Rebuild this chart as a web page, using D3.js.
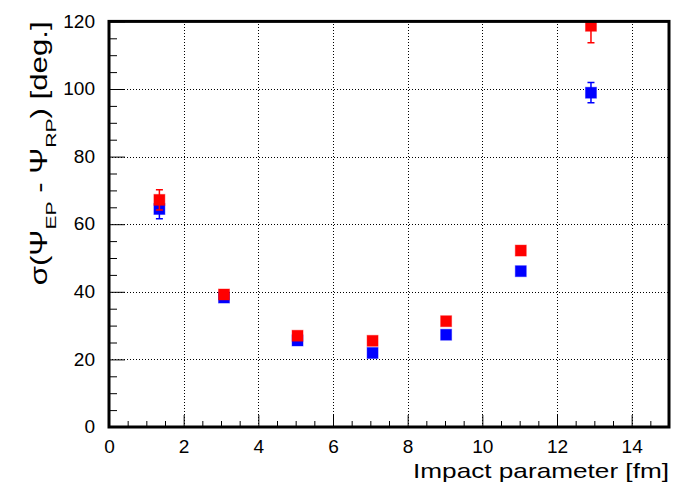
<!DOCTYPE html>
<html>
<head>
<meta charset="utf-8">
<script src="https://cdn.jsdelivr.net/npm/d3@7"></script>
<style>
  body { margin: 0; background: #fff; }
  text { font-family: "Liberation Sans", Arial, sans-serif; fill: #000; }
</style>
</head>
<body>
<script>
// impact parameter bins [fm]
const impact = [1.35, 3.08, 5.05, 7.06, 9.03, 11.03, 12.91];
// resolution sigma(Psi_EP - Psi_RP) [deg.]
const redVals = [67.2, 39.2, 27.0, 25.5, 31.3, 52.2, 118.7];
const redErr = [3.0, 0.6, 0.5, 0.5, 0.6, 0.8, 5.0];
const blueVals = [64.5, 38.3, 25.6, 21.9, 27.3, 46.1, 98.9];
const blueErr = [2.9, 0.6, 0.5, 0.5, 0.6, 0.8, 3.0];

const xTicks = [0, 2, 4, 6, 8, 10, 12, 14];
const yTicks = [0, 20, 40, 60, 80, 100, 120];

const width = 691;
const height = 487;
const box = { left: 109, right: 669, top: 21.4, bottom: 427 };

const svg = d3
  .select("body")
  .append("svg")
  .attr("width", width)
  .attr("height", height);

const x = d3.scaleLinear().domain([0, 15]).range([box.left, box.right]);
const y = d3.scaleLinear().domain([0, 120]).range([box.bottom, box.top]);

// snap 1px lines to the pixel grid so the dots stay sharp
const snap = (v) => Math.round(v) + 0.5;

svg
  .append("clipPath")
  .attr("id", "frame")
  .append("rect")
  .attr("x", box.left)
  .attr("y", box.top)
  .attr("width", box.right - box.left)
  .attr("height", box.bottom - box.top);

// dotted grid
const grid = svg
  .append("g")
  .attr("stroke", "#000")
  .attr("stroke-width", 1)
  .attr("stroke-dasharray", "1 2");

grid
  .selectAll("line.gx")
  .data(xTicks.filter((d) => d > 0))
  .join("line")
  .attr("class", "gx")
  .attr("x1", (d) => snap(x(d)))
  .attr("x2", (d) => snap(x(d)))
  .attr("y1", y(0))
  .attr("y2", y(120));

grid
  .selectAll("line.gy")
  .data(yTicks.filter((d) => d > 0 && d < 120))
  .join("line")
  .attr("class", "gy")
  .attr("x1", x(0))
  .attr("x2", x(15))
  .attr("y1", (d) => snap(y(d)))
  .attr("y2", (d) => snap(y(d)));

// data points
const plot = svg.append("g").attr("clip-path", "url(#frame)");

function drawSeries(vals, errs, color) {
  const pts = vals.map((v, i) => ({ x: impact[i], v, e: errs[i] }));
  const g = plot.append("g");
  const cap = 3.5;

  g.selectAll("line.bar")
    .data(pts)
    .join("line")
    .attr("stroke", color)
    .attr("stroke-width", 1.5)
    .attr("x1", (d) => x(d.x))
    .attr("x2", (d) => x(d.x))
    .attr("y1", (d) => y(d.v - d.e))
    .attr("y2", (d) => y(d.v + d.e));

  ["lo", "hi"].forEach((k) => {
    g.selectAll("line.cap" + k)
      .data(pts)
      .join("line")
      .attr("stroke", color)
      .attr("stroke-width", 1.5)
      .attr("x1", (d) => x(d.x) - cap)
      .attr("x2", (d) => x(d.x) + cap)
      .attr("y1", (d) => y(k === "lo" ? d.v - d.e : d.v + d.e))
      .attr("y2", (d) => y(k === "lo" ? d.v - d.e : d.v + d.e));
  });

  g.selectAll("rect")
    .data(pts)
    .join("rect")
    .attr("fill", color)
    .attr("stroke", color)
    .attr("stroke-opacity", 0.4)
    .attr("x", (d) => x(d.x) - 5.5)
    .attr("y", (d) => y(d.v) - 5.5)
    .attr("width", 11)
    .attr("height", 11);
}

drawSeries(blueVals, blueErr, "#0000ff");
drawSeries(redVals, redErr, "#ff0000");

// axes: inward ticks, labels outside
svg
  .append("g")
  .attr("transform", `translate(${box.left},0)`)
  .call(d3.axisLeft(y).tickValues(yTicks).tickSize(-16).tickPadding(14));

svg
  .append("g")
  .attr("transform", `translate(${box.left},0)`)
  .call(
    d3
      .axisLeft(y)
      .tickValues(d3.range(0, 121, 5).filter((d) => d % 20 !== 0))
      .tickSize(-8)
      .tickFormat("")
  );

svg
  .append("g")
  .attr("transform", `translate(0,${box.bottom})`)
  .call(d3.axisBottom(x).tickValues(xTicks).tickSize(-12).tickPadding(14));

svg
  .append("g")
  .attr("transform", `translate(0,${box.bottom})`)
  .call(
    d3
      .axisBottom(x)
      .tickValues(d3.range(0, 15.01, 0.5).filter((d) => d % 2 !== 0))
      .tickSize(-6)
      .tickFormat("")
  );

svg.selectAll(".domain").remove();
svg.selectAll(".tick line").attr("stroke", "#000").attr("stroke-width", 1);
svg
  .selectAll(".tick text")
  .attr("font-size", 17.5)
  .attr("font-family", "Liberation Sans, Arial, sans-serif")
  .attr("textLength", function () {
    return this.textContent.length * 10.6;
  })
  .attr("lengthAdjust", "spacingAndGlyphs");

// frame
svg
  .append("rect")
  .attr("x", box.left)
  .attr("y", box.top)
  .attr("width", box.right - box.left)
  .attr("height", box.bottom - box.top)
  .attr("fill", "none")
  .attr("stroke", "#000")
  .attr("stroke-width", 3);

// titles
svg
  .append("text")
  .attr("x", box.right)
  .attr("y", 478)
  .attr("text-anchor", "end")
  .attr("font-size", 21)
  .attr("textLength", 256)
  .attr("lengthAdjust", "spacingAndGlyphs")
  .text("Impact parameter [fm]");

const yt = svg
  .append("text")
  .attr("text-anchor", "end")
  .attr("font-size", 23);

yt.append("tspan").text("σ(Ψ");
yt.append("tspan").attr("dy", 9).attr("font-size", 15.5).text("EP");
yt.append("tspan").attr("dy", -9).text(" - Ψ");
yt.append("tspan").attr("dy", 9).attr("font-size", 15.5).text("RP");
yt.append("tspan").attr("dy", -9).text(") [deg.]");

// stretch the title along its run to the reference length
const natural = yt.node().getComputedTextLength();
const stretch = 264 / natural;
yt.attr(
  "transform",
  `translate(47,${box.top}) rotate(-90) scale(${stretch},1)`
);
</script>
</body>
</html>
